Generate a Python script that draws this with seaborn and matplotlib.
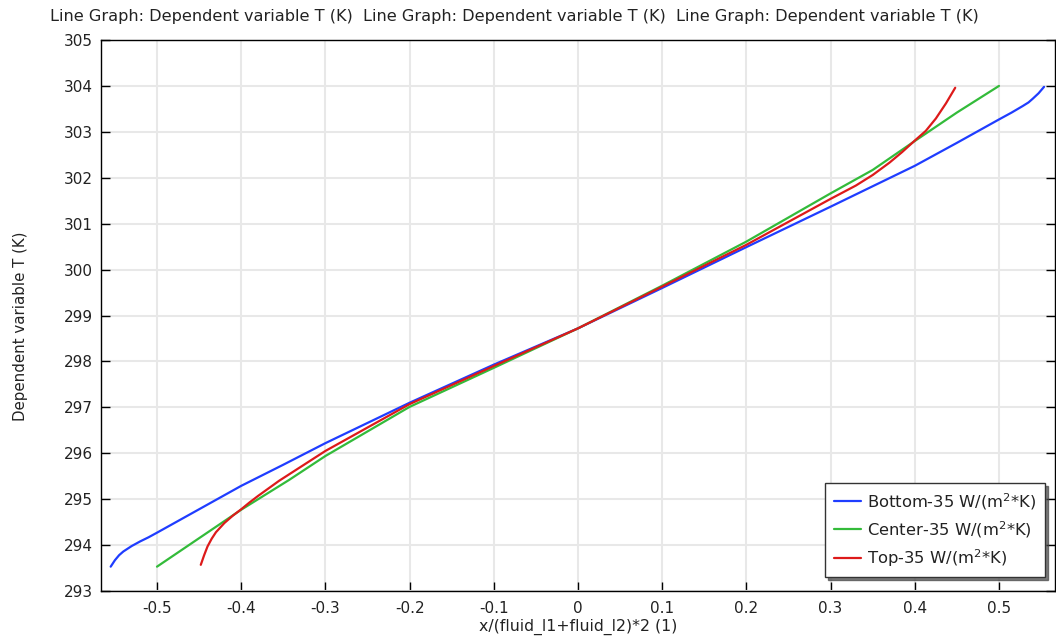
import numpy as np
import pandas as pd
import matplotlib
matplotlib.use("Agg")
import matplotlib.pyplot as plt
import seaborn as sns

# ---- data ----
bottom_x = [-0.555, -0.55, -0.545, -0.54, -0.53, -0.52, -0.51, -0.5, -0.45, -0.4, -0.35, -0.3, -0.2,
            -0.1, 0.0, 0.1, 0.2, 0.3, 0.4, 0.45, 0.5, 0.515, 0.528, 0.535, 0.54, 0.547, 0.5535]
bottom_T = [293.53, 293.67, 293.78, 293.86, 293.98, 294.08, 294.17, 294.27, 294.78, 295.29, 295.75,
            296.22, 297.10, 297.93, 298.72, 299.60, 300.49, 301.37, 302.26, 302.76, 303.27, 303.42,
            303.56, 303.64, 303.72, 303.84, 303.98]

center_x = [-0.5, -0.45, -0.4, -0.343, -0.3, -0.2, -0.1, 0.0, 0.1, 0.2, 0.3, 0.35, 0.4, 0.45, 0.5]
center_T = [293.53, 294.15, 294.77, 295.42, 295.94, 297.01, 297.86, 298.72, 299.65, 300.61, 301.66,
            302.17, 302.80, 303.42, 304.0]

top_x = [-0.448, -0.444, -0.44, -0.435, -0.43, -0.42, -0.41, -0.4, -0.39, -0.38, -0.355, -0.3, -0.2,
         -0.1, 0.0, 0.1, 0.2, 0.3, 0.33, 0.35, 0.37, 0.385, 0.4, 0.413, 0.425, 0.437, 0.448]
top_T = [293.57, 293.78, 293.97, 294.14, 294.28, 294.48, 294.64, 294.78, 294.93, 295.07, 295.40,
         296.05, 297.07, 297.90, 298.72, 299.63, 300.54, 301.54, 301.83, 302.06, 302.33, 302.56,
         302.81, 303.02, 303.29, 303.62, 303.96]

series_names = ["Bottom-35 W/(m$^2$*K)", "Center-35 W/(m$^2$*K)", "Top-35 W/(m$^2$*K)"]
series_colors = ["#1f3dff", "#33bb3a", "#dd1a1a"]

x_ticks = [-0.5, -0.4, -0.3, -0.2, -0.1, 0, 0.1, 0.2, 0.3, 0.4, 0.5]
x_ticklabels = ["-0.5", "-0.4", "-0.3", "-0.2", "-0.1", "0", "0.1", "0.2", "0.3", "0.4", "0.5"]
y_ticks = list(range(293, 306))

title_text = "Line Graph: Dependent variable T (K)  Line Graph: Dependent variable T (K)  Line Graph: Dependent variable T (K)"
x_label = "x/(fluid_l1+fluid_l2)*2 (1)"
y_label = "Dependent variable T (K)"

# ---- build table ----
frames = []
for name, xs, ts in zip(series_names, [bottom_x, center_x, top_x], [bottom_T, center_T, top_T]):
    frames.append(pd.DataFrame({"x": xs, "T": ts, "series": name}))
df = pd.concat(frames, ignore_index=True)

sns.set_style("white")
plt.rcParams["font.family"] = ["DejaVu Sans"]

fig = plt.figure(figsize=(10.56, 6.37), dpi=100)
ax = fig.add_axes([101 / 1056, 1 - 591 / 637, (1055 - 101) / 1056, (591 - 40) / 637])

sns.lineplot(data=df, x="x", y="T", hue="series", palette=series_colors,
             sort=False, estimator=None, linewidth=1.6, ax=ax)

ax.set_xlim(-0.5665, 0.5665)
ax.set_ylim(293, 305)
ax.set_xticks(x_ticks)
ax.set_xticklabels(x_ticklabels)
ax.set_yticks(y_ticks)
ax.grid(True, color="#e8e8e8", linewidth=1.5)
ax.set_axisbelow(True)
for s in ax.spines.values():
    s.set_color("black")
    s.set_linewidth(1.0)
ax.tick_params(axis="both", direction="in", length=6.5, width=1, labelsize=11,
               colors="black", labelcolor="#222222",
               right=True, top=False, left=True, bottom=True)
ax.tick_params(axis="x", pad=7)
ax.tick_params(axis="y", pad=6)

ax.set_xlabel(x_label, fontsize=11.3, color="#222222", labelpad=2)
ax.set_ylabel(y_label, fontsize=10.8, color="#222222")
ax.yaxis.set_label_coords(-0.077, 0.481)

fig.text(50 / 1056, 1 - 16 / 637, title_text, fontsize=11.6, color="#222222",
         ha="left", va="center")

leg = ax.legend(loc="lower right", bbox_to_anchor=(0.9895, 0.0254), fontsize=11.8,
                frameon=True, fancybox=False,
                shadow={"color": "#444444", "alpha": 0.7}, edgecolor="#333333",
                borderaxespad=0.0, handlelength=1.65, labelspacing=0.45,
                borderpad=0.5, handletextpad=0.4)
leg.get_frame().set_linewidth(1.0)
for t in leg.get_texts():
    t.set_color("#222222")

fig.savefig("out.png", dpi=100, facecolor="white")
